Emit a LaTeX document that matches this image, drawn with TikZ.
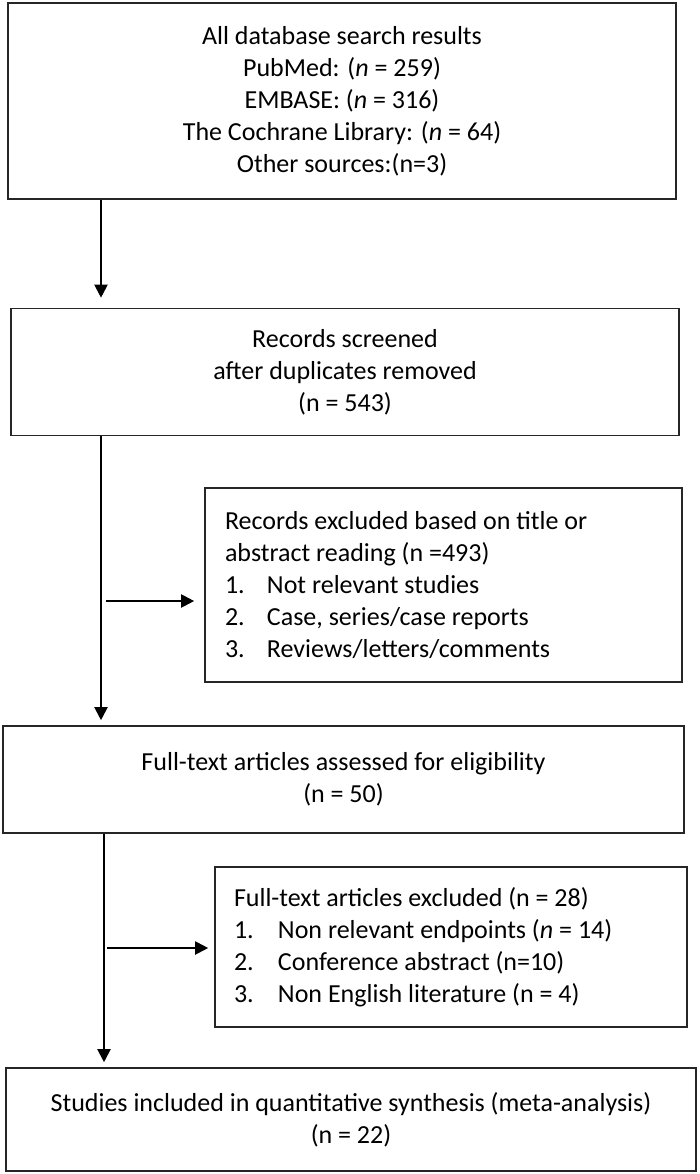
\documentclass[tikz,border=0pt]{standalone}
\usepackage{fontspec}
\setmainfont{Carlito}
\usetikzlibrary{arrows.meta}
\newcommand{\numitem}[3][42pt]{\makebox[#1][l]{#2}#3}

\begin{document}
\begin{tikzpicture}[x=1pt, y=-1pt,
		box/.style={draw=black!85, line width=1.6pt, inner sep=0pt, font=\fontsize{26}{32}\selectfont},
		arr/.style={-{Triangle[length=13pt,width=13pt]}, line width=2pt}]
			\useasboundingbox (0,0) rectangle (699,1174);
			
			\node[box, minimum width=668pt, minimum height=196pt, align=center] (search) at (342,101) {All database search results\\PubMed: (\textit{n} = 259)\\EMBASE: (\textit{n} = 316)\\The Cochrane Library: (\textit{n} = 64)\\Other sources:(n=3)};
			\node[box, minimum width=668pt, minimum height=127pt, align=center] (screen) at (345,372) {Records screened\\after duplicates removed\\(n = 543)};
			\node[box, minimum width=477pt, minimum height=194pt, text width=437pt, align=flush left] (excl1) at (443.5,585) {Records excluded based on title or\\abstract reading (n =493)\\\numitem{1.}{Not relevant studies}\\\numitem{2.}{Case, series/case reports}\\\numitem{3.}{Reviews/letters/comments}};
			\node[box, minimum width=681pt, minimum height=107pt, align=center] (fulltext) at (343.5,779.5) {Full-text articles assessed for eligibility\\(n = 50)};
			\node[box, minimum width=472pt, minimum height=160pt, text width=434pt, align=flush left] (excl2) at (451,947) {Full-text articles excluded (n = 28)\\\numitem[44pt]{1.}{Non relevant endpoints (\textit{n} = 14)}\\\numitem[44pt]{2.}{Conference abstract (n=10)}\\\numitem[44pt]{3.}{Non English literature (n = 4)}};
			\node[box, minimum width=690pt, minimum height=103pt, align=center] (incl) at (351,1119.5) {Studies included in quantitative synthesis (meta-analysis)\\(n = 22)};
			
			\coordinate (trunkA) at (101,0);
			\coordinate (trunkB) at (104,0);
			\coordinate (split1) at (106,601);
			\coordinate (split2) at (107,948);
			
			\draw[arr, shorten >=10pt] (search.south -| trunkA) to (screen.north -| trunkA);
			\draw[arr, shorten >=5pt] (screen.south -| trunkA) to (fulltext.north -| trunkA);
			\draw[arr, shorten >=10pt] (split1) to (split1 -| excl1.west);
			\draw[arr, shorten >=5pt] (fulltext.south -| trunkB) to (incl.north -| trunkB);
			\draw[arr, shorten >=6pt] (split2) to (split2 -| excl2.west);
			
		\end{tikzpicture}
\end{document}
